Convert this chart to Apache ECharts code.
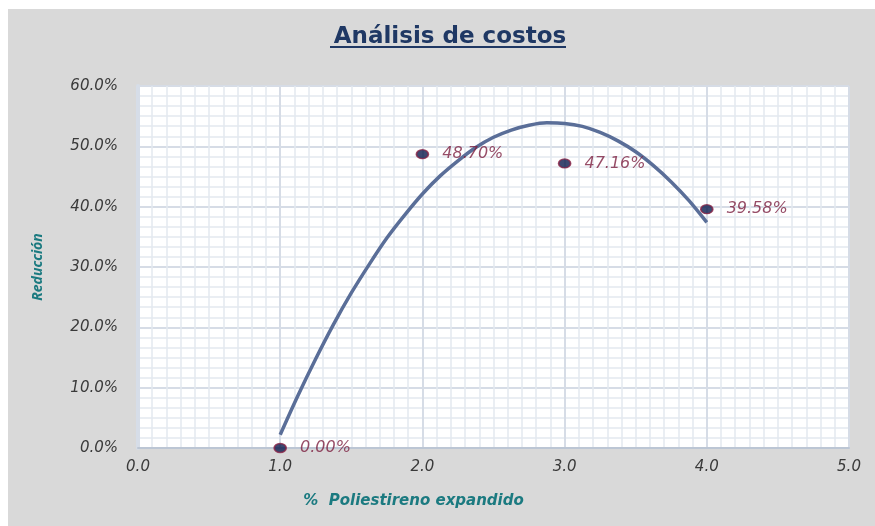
<!DOCTYPE html>
<html>
<head>
<meta charset="utf-8">
<script src="https://cdn.jsdelivr.net/npm/echarts@6/dist/echarts.min.js"></script>
<style>
    html, body { margin: 0; padding: 0; background: #fff; }
    #chart { position: absolute; left: 8px; top: 9px; width: 867px; height: 517px; background: #d9d9d9; }
</style>
</head>
<body>
<div id="chart"></div>
<script>
// puntos medidos
const poliestireno = [1, 2, 3, 4];
const reduccion = [0, 48.70, 47.16, 39.58];
// línea de tendencia
const tendenciaX = [1, 1.125, 1.25, 1.375, 1.5, 1.625, 1.75, 1.875, 2, 2.125, 2.25, 2.375, 2.5,
    2.625, 2.75, 2.875, 3, 3.125, 3.25, 3.375, 3.5, 3.625, 3.75, 3.875, 4];
const tendenciaY = [2.2, 8.7, 14.8, 20.5, 25.7, 30.4, 34.8, 38.6, 42.1, 45.1, 47.6, 49.8, 51.5,
    52.7, 53.5, 53.9, 53.8, 53.3, 52.3, 50.9, 49.1, 46.8, 44.1, 41.0, 37.4];

const labelFont = 'DejaVu Sans';
const chart = echarts.init(document.getElementById('chart'));

const option = {
    backgroundColor: '#d9d9d9',
    animation: false,
    title: {
        text: 'Análisis de costos',
        left: 437,
        textAlign: 'center',
        top: 12,
        textStyle: {
            fontFamily: 'DejaVu Sans',
            fontSize: 23,
            fontWeight: 'bold',
            color: '#1f3864'
        }
    },
    graphic: [{
        type: 'rect',
        shape: { x: 322, y: 37, width: 236, height: 2 },
        style: { fill: '#1f3864' }
    }],
    grid: {
        left: 130,
        right: 26,
        top: 77,
        bottom: 78,
        show: true,
        backgroundColor: '#ffffff',
        borderWidth: 0
    },
    xAxis: {
        type: 'value',
        min: 0,
        max: 5,
        interval: 1,
        name: '%  Poliestireno expandido',
        nameLocation: 'middle',
        nameGap: 46,
        nameTextStyle: {
            fontFamily: labelFont,
            fontStyle: 'italic',
            fontWeight: 'bold',
            fontSize: 15,
            color: '#1b7a80',
            padding: [0, 160, 0, 0]
        },
        axisLine: { show: true, lineStyle: { color: '#bcc6d4', width: 2 } },
        axisTick: { show: false },
        axisLabel: {
            margin: 12,
            formatter: v => v.toFixed(1),
            fontFamily: labelFont,
            fontStyle: 'italic',
            fontSize: 15,
            color: '#3a3a3a'
        },
        splitLine: { show: true, lineStyle: { color: '#d6dce6', width: 2 } },
        minorTick: { show: false, splitNumber: 10 },
        minorSplitLine: { show: true, lineStyle: { color: '#e4e9f0', width: 1.5 } }
    },
    yAxis: {
        type: 'value',
        min: 0,
        max: 60,
        interval: 10,
        name: 'Reducción',
        nameLocation: 'middle',
        nameGap: 93,
        nameRotate: 90,
        nameTextStyle: {
            fontFamily: 'Open Sans',
            fontStyle: 'italic',
            fontWeight: 'bold',
            fontSize: 14,
            color: '#1b7a80'
        },
        axisLine: { show: true, lineStyle: { color: '#d6dde8', width: 4 } },
        axisTick: { show: false },
        axisLabel: {
            margin: 20,
            formatter: v => v.toFixed(1) + '%',
            fontFamily: labelFont,
            fontStyle: 'italic',
            fontSize: 15,
            color: '#3a3a3a'
        },
        splitLine: { show: true, lineStyle: { color: '#d6dce6', width: 2 } },
        minorTick: { show: false, splitNumber: 6 },
        minorSplitLine: { show: true, lineStyle: { color: '#e4e9f0', width: 1.5 } }
    },
    series: [{
        name: 'Tendencia',
        type: 'line',
        smooth: 0.3,
        showSymbol: false,
        z: 2,
        lineStyle: { color: '#5a6e98', width: 3.5 },
        data: tendenciaX.map((x, i) => [x, tendenciaY[i]])
    }, {
        name: 'Reducción',
        type: 'scatter',
        z: 3,
        symbol: 'circle',
        symbolSize: [12, 9],
        itemStyle: { color: '#0b1a4c', borderColor: '#8a2346', borderWidth: 1.5 },
        label: {
            show: true,
            position: 'right',
            distance: 13,
            formatter: p => p.value[1].toFixed(2) + '%',
            fontFamily: labelFont,
            fontStyle: 'italic',
            fontSize: 16,
            color: '#7d2141'
        },
        data: poliestireno.map((x, i) => [x, reduccion[i]])
    }]
};

chart.setOption(option);
</script>
</body>
</html>
